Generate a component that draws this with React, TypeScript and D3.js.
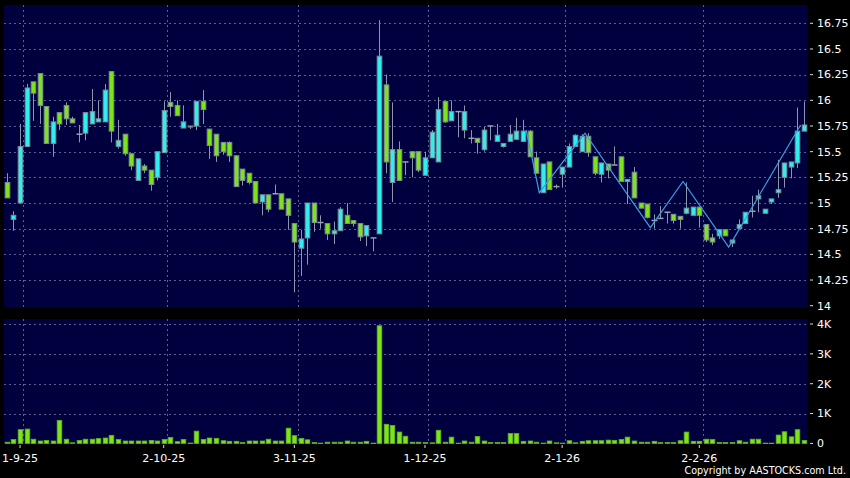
import * as d3 from "d3";

// daily candles, 28 Aug 2025 .. 27 Feb 2026
const opens = [
  15.2, 14.84, 15.0, 15.55, 16.18, 16.26, 15.94, 15.58, 15.88, 15.95,
  15.82, 15.67, 15.68, 15.77, 15.79, 15.79, 16.28, 15.55, 15.67, 15.48,
  15.22, 15.36, 15.32, 15.25, 15.49, 15.98, 15.95, 15.73, 15.74, 15.75,
  15.99, 15.72, 15.67, 15.59, 15.59, 15.46, 15.33, 15.29, 15.21, 15.01,
  15.08, 15.09, 15.09, 15.04, 14.8, 14.56, 14.66, 15.0, 14.81, 14.8,
  14.7, 14.73, 14.88, 14.83, 14.8, 14.68, 14.66, 14.7, 16.15, 15.2,
  15.52, 15.4, 15.5, 15.5, 15.27, 15.44, 15.4, 15.99, 15.8, 15.89,
  15.71, 15.63, 15.63, 15.52, 15.75, 15.6, 15.55, 15.6, 15.62, 15.6,
  15.7, 15.44, 15.1, 15.4, 15.16, 15.28, 15.35, 15.55, 15.5, 15.65,
  15.45, 15.28, 15.38, 15.37, 15.45, 15.21, 15.3, 15.0, 14.99, 14.83,
  14.85, 14.91, 14.89, 14.87, 14.9, 14.88, 14.96, 14.79, 14.66, 14.68,
  14.74, 14.61, 14.75, 14.8, 14.92, 15.04, 14.9, 15.01, 15.1, 15.25,
  15.35, 15.39, 15.7,
];
const highs = [
  15.29, 14.92, 15.77, 16.16, 16.18, 16.26, 15.94, 15.84, 15.88, 15.98,
  15.84, 15.76, 15.88, 16.11, 16.0, 16.16, 16.28, 15.81, 15.67, 15.48,
  15.43, 15.38, 15.32, 15.5, 15.99, 16.08, 16.0, 15.95, 15.75, 15.99,
  16.1, 15.72, 15.67, 15.59, 15.6, 15.46, 15.33, 15.29, 15.21, 15.08,
  15.08, 15.18, 15.09, 15.04, 14.8, 14.74, 15.0, 15.0, 14.88, 14.8,
  14.82, 14.96, 15.0, 14.83, 14.8, 14.78, 14.66, 16.78, 16.25, 15.98,
  15.6, 15.4, 15.5, 15.5, 15.5, 15.71, 16.03, 15.99, 16.0, 15.89,
  15.95, 15.71, 15.63, 15.74, 15.75, 15.77, 15.58, 15.76, 15.83, 15.81,
  15.71, 15.5, 15.38, 15.4, 15.18, 15.35, 15.58, 15.67, 15.67, 15.68,
  15.45, 15.39, 15.38, 15.55, 15.45, 15.23, 15.35, 15.0, 14.99, 14.89,
  14.97, 14.91, 14.89, 14.87, 15.2, 14.96, 14.96, 14.79, 14.7, 14.74,
  14.74, 14.64, 14.84, 14.91, 15.07, 15.13, 14.94, 15.04, 15.42, 15.39,
  15.4, 15.93, 15.99,
];
const lows = [
  15.05, 14.73, 15.0, 15.55, 15.8, 15.77, 15.58, 15.45, 15.71, 15.76,
  15.78, 15.59, 15.61, 15.77, 15.79, 15.79, 15.59, 15.53, 15.46, 15.32,
  15.22, 15.29, 15.12, 15.22, 15.49, 15.84, 15.85, 15.73, 15.72, 15.71,
  15.77, 15.43, 15.4, 15.47, 15.4, 15.16, 15.17, 15.18, 15.0, 14.88,
  14.91, 15.09, 14.94, 14.74, 14.13, 14.29, 14.4, 14.72, 14.75, 14.64,
  14.6, 14.73, 14.8, 14.77, 14.63, 14.58, 14.53, 14.7, 15.29, 15.01,
  15.22, 15.27, 15.25, 15.3, 15.27, 15.44, 15.4, 15.78, 15.8, 15.64,
  15.63, 15.58, 15.48, 15.5, 15.61, 15.6, 15.54, 15.6, 15.62, 15.6,
  15.45, 15.29, 15.1, 15.13, 15.14, 15.15, 15.35, 15.55, 15.5, 15.45,
  15.27, 15.2, 15.24, 15.37, 15.21, 14.99, 15.05, 14.95, 14.85, 14.75,
  14.85, 14.8, 14.8, 14.75, 14.89, 14.88, 14.76, 14.62, 14.59, 14.65,
  14.68, 14.57, 14.75, 14.8, 14.86, 14.91, 14.9, 14.99, 15.05, 15.15,
  15.24, 15.34, 15.7,
];
const closes = [
  15.05, 14.88, 15.55, 16.12, 16.07, 15.95, 15.58, 15.79, 15.77, 15.82,
  15.78, 15.67, 15.88, 15.89, 15.82, 16.1, 15.7, 15.61, 15.48, 15.36,
  15.43, 15.32, 15.18, 15.5, 15.9, 15.94, 15.85, 15.79, 15.75, 15.99,
  15.91, 15.56, 15.46, 15.5, 15.46, 15.16, 15.22, 15.2, 15.0, 15.08,
  14.94, 15.09, 14.94, 14.88, 14.62, 14.65, 15.0, 14.81, 14.81, 14.7,
  14.73, 14.94, 14.8, 14.8, 14.67, 14.78, 14.66, 16.43, 15.4, 15.52,
  15.22, 15.4, 15.44, 15.32, 15.44, 15.69, 15.91, 15.79, 15.89, 15.89,
  15.89, 15.63, 15.59, 15.71, 15.75, 15.66, 15.58, 15.67, 15.7, 15.7,
  15.45, 15.29, 15.38, 15.13, 15.16, 15.35, 15.55, 15.66, 15.65, 15.49,
  15.29, 15.39, 15.32, 15.37, 15.21, 15.23, 15.05, 14.95, 14.86, 14.83,
  14.85, 14.91, 14.83, 14.84, 14.95, 14.96, 14.88, 14.64, 14.62, 14.74,
  14.68, 14.64, 14.79, 14.91, 14.92, 15.07, 14.94, 15.04, 15.13, 15.39,
  15.4, 15.7, 15.76,
];
// volume, thousands of shares
const volumes = [
  40, 130, 460, 480, 140, 80, 100, 80, 770, 140,
  20, 100, 140, 140, 160, 180, 270, 130, 80, 80,
  80, 80, 100, 80, 130, 200, 60, 130, 10, 410,
  130, 180, 170, 90, 70, 70, 30, 80, 80, 80,
  140, 80, 80, 510, 260, 170, 120, 30, 10, 40,
  40, 40, 80, 40, 40, 70, 10, 3940, 640, 600,
  380, 240, 40, 40, 30, 20, 440, 40, 210, 10,
  80, 40, 230, 80, 30, 30, 30, 330, 330, 70,
  80, 40, 10, 80, 20, 10, 90, 20, 70, 90,
  90, 90, 110, 100, 130, 210, 80, 40, 40, 70,
  30, 30, 30, 90, 380, 70, 70, 140, 130, 30,
  30, 30, 90, 40, 140, 140, 10, 10, 280, 390,
  220, 460, 100,
];
// zigzag turning points: candle index and price
const zigIdx = [80, 82, 89, 99, 104, 111, 122];
const zigPrice = [15.71, 15.1, 15.68, 14.76, 15.21, 14.57, 15.76];

const dateLabels = ["1-9-25", "2-10-25", "3-11-25", "1-12-25", "2-1-26", "2-2-26"];
const dateIdx = [2, 24, 44, 64, 85, 106];
const priceTicks = [14, 14.25, 14.5, 14.75, 15, 15.25, 15.5, 15.75, 16, 16.25, 16.5, 16.75];
const volTicks = [0, 1000, 2000, 3000, 4000];

const W = 850;
const H = 478;
const UP = "#30eef0";
const DOWN = "#7de41c";
const GRID = "#5e5e92";
const FONT = "DejaVu Sans, Verdana, sans-serif";

export default function App() {
  const n = opens.length;
  const x = d3.scaleBand<number>().domain(d3.range(n)).range([3.7, 807.1]);
  const step = x.step();
  const cx = (i: number) => (x(i) as number) + x.bandwidth() / 2;
  const yP = d3.scaleLinear().domain([14, 16.75]).range([305.7, 23.3]);
  const yV = d3.scaleLinear().domain([0, 4000]).range([443.4, 324]);

  const pTop = 5, pBot = 307, vTop = 319, vBot = 444;
  const left = 4, right = 807;
  const bw = 4.6;

  const zig = d3
    .line<number>()
    .x((d) => cx(zigIdx[d]) - step / 2)
    .y((d) => yP(zigPrice[d]));

  return (
    <svg
      width={W}
      height={H}
      style={{ position: "absolute", left: 0, top: 0, background: "#000" }}
    >
      <rect x={0} y={0} width={W} height={H} fill="#000" />
      <rect x={left} y={pTop} width={right - left} height={pBot - pTop} fill="#00003e" />
      <rect x={left} y={vTop} width={right - left} height={vBot - vTop} fill="#00003e" />

      {/* grid */}
      <g stroke={GRID} strokeDasharray="2,3" strokeWidth={1}>
        {priceTicks.slice(1).map((t) => (
          <line key={"p" + t} x1={left} x2={right} y1={Math.round(yP(t)) + 0.5} y2={Math.round(yP(t)) + 0.5} />
        ))}
        {volTicks.slice(1).map((t) => (
          <line key={"v" + t} x1={left} x2={right} y1={Math.round(yV(t)) + 0.5} y2={Math.round(yV(t)) + 0.5} />
        ))}
        {dateIdx.map((i) => {
          const gx = Math.round(cx(i) + step / 2) + 0.5;
          return (
            <g key={"d" + i}>
              <line x1={gx} x2={gx} y1={pTop} y2={pBot} />
              <line x1={gx} x2={gx} y1={vTop} y2={vBot} />
            </g>
          );
        })}
      </g>

      {/* candles */}
      <g>
        {opens.map((o, i) => {
          const c = closes[i];
          const xc = Math.round(cx(i)) + 0.5;
          const flat = o === c;
          const top = yP(Math.max(o, c));
          const bot = yP(Math.min(o, c));
          return (
            <g key={i}>
              <line x1={xc} x2={xc} y1={yP(highs[i])} y2={yP(lows[i])} stroke="#8c96a8" strokeWidth={1} />
              {flat ? (
                <line x1={xc - 3} x2={xc + 3} y1={top} y2={top} stroke="#9aa0ac" strokeWidth={1.5} />
              ) : (
                <rect
                  x={xc - bw / 2}
                  y={top}
                  width={bw}
                  height={Math.max(1, bot - top)}
                  fill={c > o ? UP : DOWN}
                  stroke="#7c8c94"
                  strokeWidth={1}
                />
              )}
            </g>
          );
        })}
      </g>

      <path
        d={zig(d3.range(zigIdx.length)) || ""}
        fill="none"
        stroke="#3c9ee0"
        strokeWidth={1.2}
      />

      {/* volume */}
      <g>
        {volumes.map((v, i) => (
          <rect
            key={i}
            x={Math.round(cx(i)) + 0.5 - bw / 2}
            y={yV(v)}
            width={bw}
            height={Math.max(0.5, yV(0) - yV(v))}
            fill={DOWN}
            stroke="#5fb020"
            strokeWidth={0.8}
          />
        ))}
      </g>

      {/* right axes */}
      <g fontFamily={FONT} fontSize={11} fill="#fff">
        {priceTicks.map((t) => (
          <g key={"pt" + t}>
            <line x1={810} x2={813} y1={yP(t)} y2={yP(t)} stroke="#ddd" />
            <text x={817} y={yP(t)} dy="0.35em">{t}</text>
          </g>
        ))}
        {volTicks.map((t) => (
          <g key={"vt" + t}>
            <line x1={810} x2={813} y1={yV(t)} y2={yV(t)} stroke="#ddd" />
            <text x={817} y={yV(t)} dy="0.35em">{t === 0 ? "0" : t / 1000 + "K"}</text>
          </g>
        ))}
      </g>

      {/* date axis */}
      <g fontFamily={FONT} fontSize={11} fill="#fff">
        {dateIdx.map((i, k) => (
          <g key={"dl" + i}>
            <line x1={cx(i)} x2={cx(i)} y1={445} y2={448} stroke="#ddd" />
            <text x={cx(i)} y={462} textAnchor="middle">{dateLabels[k]}</text>
          </g>
        ))}
      </g>

      <text x={846} y={474} textAnchor="end" fontFamily={FONT} fontSize={9.6} fill="#fff">
        Copyright by AASTOCKS.com Ltd.
      </text>
    </svg>
  );
}
